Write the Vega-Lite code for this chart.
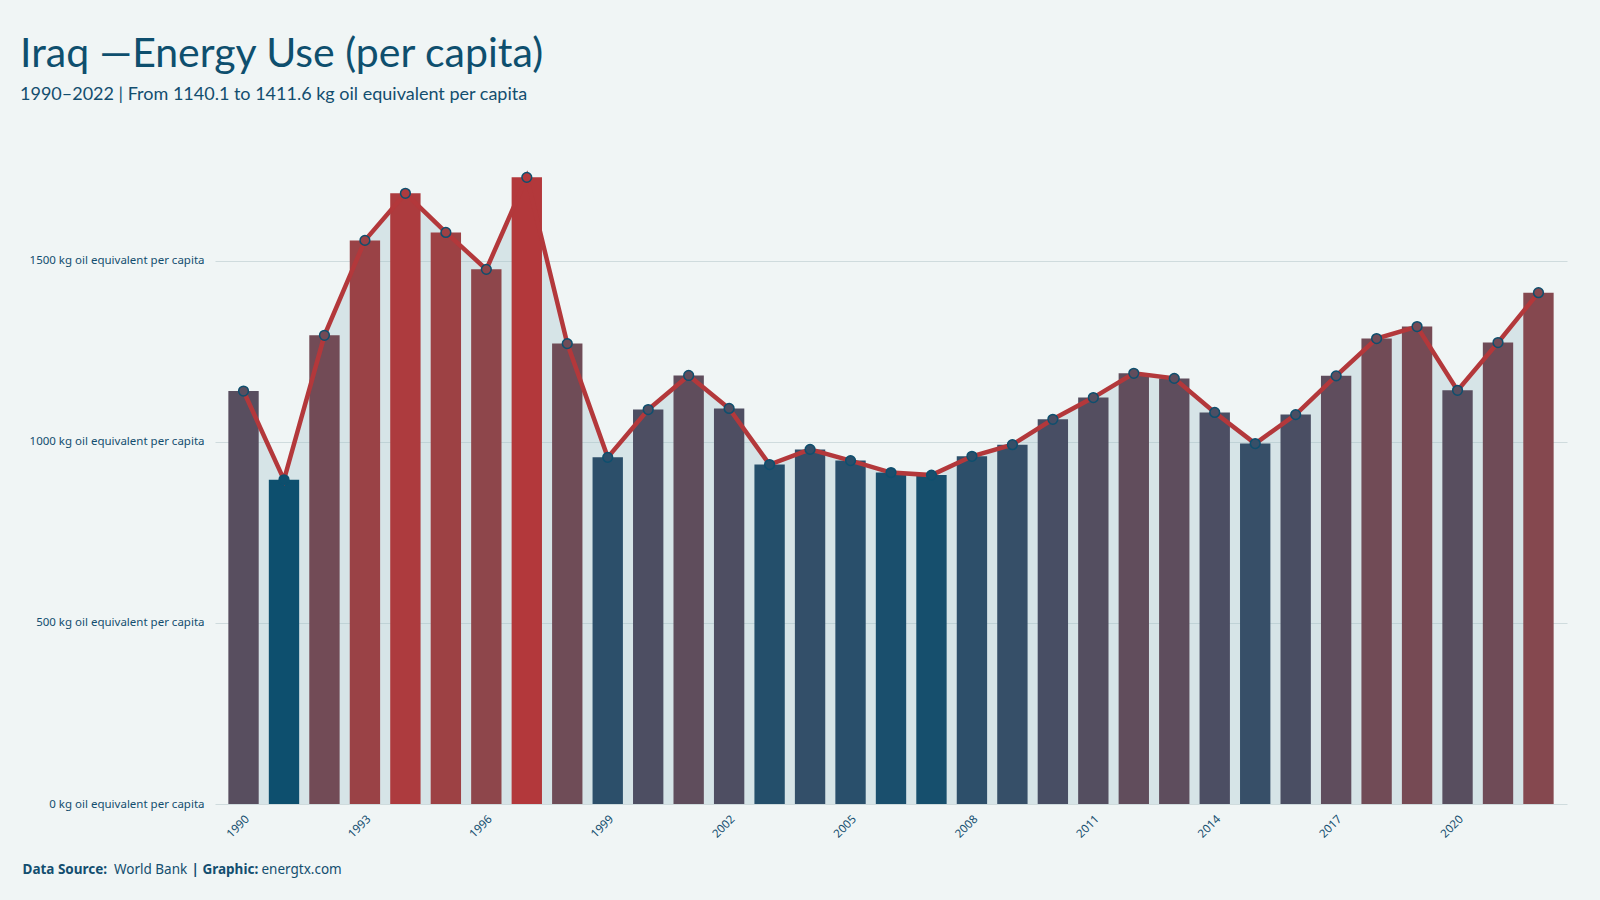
{
  "$schema": "https://vega.github.io/schema/vega-lite/v6.json",
  "width": 1352,
  "height": 652,
  "autosize": {"type": "none"},
  "padding": {"left": 215, "top": 152, "right": 33, "bottom": 96},
  "background": "#f0f5f5",
  "title": {
    "text": "Iraq —Energy Use (per capita)",
    "subtitle": "1990–2022 | From 1140.1  to 1411.6  kg oil equivalent per capita"
  },
  "config": {
    "view": {"stroke": null},
    "title": {
      "anchor": "start",
      "frame": "group",
      "dx": -195,
      "offset": 47,
      "font": "Lato, 'DejaVu Sans Condensed', sans-serif",
      "fontSize": 41,
      "fontWeight": "normal",
      "color": "#0e4f6e",
      "subtitleFont": "Lato, 'DejaVu Sans Condensed', sans-serif",
      "subtitleFontSize": 18,
      "subtitleColor": "#134e6f",
      "subtitlePadding": 10
    },
    "axis": {
      "labelFont": "Noto Sans",
      "labelColor": "#134e6f",
      "titleFont": "Noto Sans",
      "titleColor": "#134e6f",
      "titleFontSize": 13.5
    }
  },
  "data": {
    "values": [
      {"year": 1990, "kgoe": 1140.1},
      {"year": 1991, "kgoe": 895},
      {"year": 1992, "kgoe": 1294},
      {"year": 1993, "kgoe": 1556},
      {"year": 1994, "kgoe": 1686},
      {"year": 1995, "kgoe": 1578},
      {"year": 1996, "kgoe": 1476},
      {"year": 1997, "kgoe": 1730},
      {"year": 1998, "kgoe": 1271},
      {"year": 1999, "kgoe": 957},
      {"year": 2000, "kgoe": 1089},
      {"year": 2001, "kgoe": 1183},
      {"year": 2002, "kgoe": 1092},
      {"year": 2003, "kgoe": 937},
      {"year": 2004, "kgoe": 979},
      {"year": 2005, "kgoe": 948},
      {"year": 2006, "kgoe": 915},
      {"year": 2007, "kgoe": 908},
      {"year": 2008, "kgoe": 960},
      {"year": 2009, "kgoe": 992},
      {"year": 2010, "kgoe": 1062},
      {"year": 2011, "kgoe": 1122},
      {"year": 2012, "kgoe": 1189},
      {"year": 2013, "kgoe": 1175},
      {"year": 2014, "kgoe": 1081},
      {"year": 2015, "kgoe": 995},
      {"year": 2016, "kgoe": 1075},
      {"year": 2017, "kgoe": 1182},
      {"year": 2018, "kgoe": 1285},
      {"year": 2019, "kgoe": 1318},
      {"year": 2020, "kgoe": 1142},
      {"year": 2021, "kgoe": 1274},
      {"year": 2022, "kgoe": 1411.6}
    ]
  },
  "resolve": {"axis": {"x": "independent"}},
  "layer": [
    {
      "mark": {"type": "area", "color": "#9dbcc6", "opacity": 0.3},
      "encoding": {
        "x": {
          "field": "year",
          "type": "ordinal",
          "scale": {"paddingInner": 0.25, "paddingOuter": 0.33},
          "axis": {
            "orient": "bottom",
            "values": [1990, 1993, 1996, 1999, 2002, 2005, 2008, 2011, 2014, 2017, 2020],
            "labelAngle": -45,
            "labelFontSize": 11.5,
            "labelPadding": 9,
            "ticks": false,
            "domain": false,
            "grid": false,
            "title": "Data  Source:",
            "titleFontWeight": "bold",
            "titleX": -193,
            "titleY": 69,
            "titleAlign": "left",
            "titleBaseline": "alphabetic",
            "titleAngle": 0
          }
        },
        "y": {
          "field": "kgoe",
          "type": "quantitative",
          "scale": {"domain": [0, 1800], "nice": false},
          "axis": {
            "values": [0, 500, 1000, 1500],
            "labelExpr": "datum.value + ' kg oil equivalent per capita'",
            "labelFontSize": 11.5,
            "labelPadding": 11,
            "grid": true,
            "gridColor": "#cfdbdd",
            "gridWidth": 1,
            "domain": false,
            "ticks": false,
            "title": null
          }
        }
      }
    },
    {
      "mark": {"type": "bar"},
      "encoding": {
        "x": {
          "field": "year",
          "type": "ordinal",
          "axis": {
            "orient": "bottom",
            "labels": false,
            "ticks": false,
            "domain": false,
            "grid": false,
            "title": "World Bank",
            "titleFontWeight": "normal",
            "titleX": -101.5,
            "titleY": 69,
            "titleAlign": "left",
            "titleBaseline": "alphabetic",
            "titleAngle": 0
          }
        },
        "y": {"field": "kgoe", "type": "quantitative"},
        "color": {
          "field": "kgoe",
          "type": "quantitative",
          "scale": {"range": ["#0d4f6e", "#b3383b"], "interpolate": "lab", "zero": false, "nice": false},
          "legend": null
        }
      }
    },
    {
      "mark": {"type": "line", "color": "#b3383b", "strokeWidth": 4.5},
      "encoding": {
        "x": {
          "field": "year",
          "type": "ordinal",
          "axis": {
            "orient": "bottom",
            "labels": false,
            "ticks": false,
            "domain": false,
            "grid": false,
            "title": "| Graphic:",
            "titleFontWeight": "bold",
            "titleX": -24,
            "titleY": 69,
            "titleAlign": "left",
            "titleBaseline": "alphabetic",
            "titleAngle": 0
          }
        },
        "y": {"field": "kgoe", "type": "quantitative"}
      }
    },
    {
      "mark": {"type": "point", "filled": true, "size": 95, "opacity": 1, "stroke": "#0e4f6e", "strokeWidth": 1.5},
      "encoding": {
        "x": {
          "field": "year",
          "type": "ordinal",
          "axis": {
            "orient": "bottom",
            "labels": false,
            "ticks": false,
            "domain": false,
            "grid": false,
            "title": "energtx.com",
            "titleFontWeight": "normal",
            "titleX": 46,
            "titleY": 69,
            "titleAlign": "left",
            "titleBaseline": "alphabetic",
            "titleAngle": 0
          }
        },
        "y": {"field": "kgoe", "type": "quantitative"},
        "color": {"field": "kgoe", "type": "quantitative", "legend": null}
      }
    }
  ]
}
